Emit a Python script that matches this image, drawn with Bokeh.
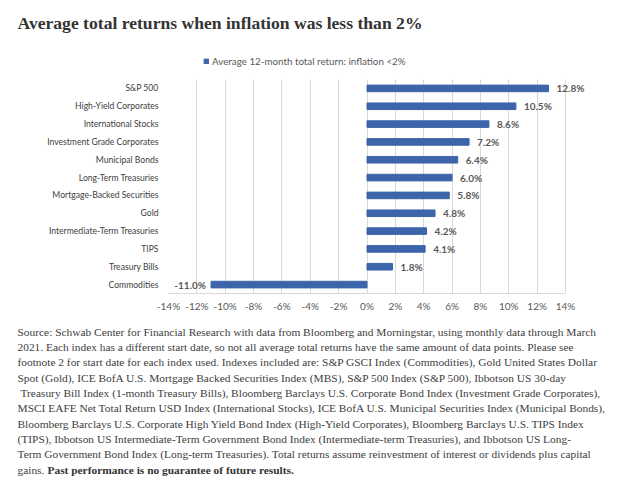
from bokeh.plotting import figure
from bokeh.models import (Range1d, FactorRange, ColumnDataSource, LabelSet, Legend,
                          LegendItem, FixedTicker)
from bokeh.embed import file_html
from bokeh.resources import INLINE
from bokeh.core.properties import value

# ---------------- data ----------------
categories = ["S&P 500", "High-Yield Corporates", "International Stocks",
              "Investment Grade Corporates", "Municipal Bonds", "Long-Term Treasuries",
              "Mortgage-Backed Securities", "Gold", "Intermediate-Term Treasuries",
              "TIPS", "Treasury Bills", "Commodities"]
returns = [12.8, 10.5, 8.6, 7.2, 6.4, 6.0, 5.8, 4.8, 4.2, 4.1, 1.8, -11.0]
x_ticks = [-14, -12, -10, -8, -6, -4, -2, 0, 2, 4, 6, 8, 10, 12, 14]
x_tick_labels = ["-14%", "-12%", "-10%", "-8%", "-6%", "-4%", "-2%", "0%",
                 "2%", "4%", "6%", "8%", "10%", "12%", "14%"]
title_text = "Average total returns when inflation was less than 2%"
legend_label = "Average 12-month total return: inflation <2%"
footnote_lines = [
    "Source: Schwab Center for Financial Research with data from Bloomberg and Morningstar, using monthly data through March",
    "2021. Each index has a different start date, so not all average total returns have the same amount of data points. Please see",
    "footnote 2 for start date for each index used. Indexes included are: S&P GSCI Index (Commodities), Gold United States Dollar",
    "Spot (Gold), ICE BofA U.S. Mortgage Backed Securities Index (MBS), S&P 500 Index (S&P 500), Ibbotson US 30-day",
    "Treasury Bill Index (1-month Treasury Bills), Bloomberg Barclays U.S. Corporate Bond Index (Investment Grade Corporates),",
    "MSCI EAFE Net Total Return USD Index (International Stocks), ICE BofA U.S. Municipal Securities Index (Municipal Bonds),",
    "Bloomberg Barclays U.S. Corporate High Yield Bond Index (High-Yield Corporates), Bloomberg Barclays U.S. TIPS Index",
    "(TIPS), Ibbotson US Intermediate-Term Government Bond Index (Intermediate-term Treasuries), and Ibbotson US Long-",
    "Term Government Bond Index (Long-term Treasuries). Total returns assume reinvestment of interest or dividends plus capital",
]
last_line_plain = "gains."
last_line_bold = "Past performance is no guarantee of future results."

# ---------------- styles / geometry ----------------
W = 628
BLUE = "#3D65A9"
GRID = "#D9D9D9"
SANS = "Lato"
SERIF = "Liberation Serif"

# ---------------- header ----------------
HH = 72
hdr = figure(width=W, height=HH, x_range=Range1d(0, W), y_range=Range1d(HH, 0),
             x_axis_type=None, y_axis_type=None, min_border=0,
             toolbar_location=None, output_backend="svg")
hdr.grid.visible = False
hdr.outline_line_color = None
hdr.text(x=[17], y=[22], text=[title_text], text_font=value(SERIF),
         text_font_style="bold", text_font_size="17.6px", text_color="#333333",
         text_baseline="middle", text_align="left")
# legend proxy (no visible mark of its own)
swatch = hdr.hbar(y=[float("nan")], right=[float("nan")], height=1,
                  fill_color=BLUE, line_color=BLUE)
leg = Legend(items=[LegendItem(label=legend_label, renderers=[swatch])],
             location=(203, HH - 67), orientation="horizontal",
             glyph_width=6, glyph_height=6, label_height=12, label_standoff=3,
             padding=0, margin=0, spacing=0, border_line_color=None,
             background_fill_alpha=0, label_text_font=SANS,
             label_text_font_size="9.8px", label_text_color="#595959")
hdr.add_layout(leg)

# ---------------- chart ----------------
CH = 243
FL, FR = 168, 614
px_per_unit = (565 - FL) / 28.0
x_end = 14 + (FR - 565) / px_per_unit
src = ColumnDataSource(dict(
    cat=categories, val=returns,
    lab=[f"{v:.1f}%" for v in returns],
    off=[8 if v >= 0 else -5 for v in returns],
    align=["left" if v >= 0 else "right" for v in returns],
))
p = figure(width=W, height=CH, y_range=FactorRange(*categories[::-1]),
           x_range=Range1d(-14, x_end), toolbar_location=None, output_backend="svg",
           min_border_left=FL, min_border_right=W - FR, min_border_top=7,
           min_border_bottom=22)
p.hbar(y="cat", left=0, right="val", height=0.37, color=BLUE, source=src)
p.add_layout(LabelSet(x="val", y="cat", text="lab", x_offset="off", text_align="align",
                      text_baseline="middle", text_font=value(SANS),
                      text_font_style="bold", text_font_size="10px",
                      text_color="#595959", source=src))
p.outline_line_color = None
p.ygrid.visible = False
p.xgrid.ticker = FixedTicker(ticks=x_ticks)
p.xgrid.grid_line_color = GRID
p.xaxis.ticker = FixedTicker(ticks=x_ticks)
p.xaxis.bounds = (x_ticks[0], x_ticks[-1])
p.xaxis.major_label_overrides = {t: s for t, s in zip(x_ticks, x_tick_labels)}
p.xaxis.axis_line_color = GRID
p.xaxis.major_tick_line_color = None
p.xaxis.minor_tick_line_color = None
p.xaxis.major_tick_out = 0
p.xaxis.major_label_text_font = SANS
p.xaxis.major_label_text_font_size = "10px"
p.xaxis.major_label_text_color = "#595959"
p.xaxis.major_label_standoff = 6
p.yaxis.axis_line_color = None
p.yaxis.major_tick_line_color = None
p.yaxis.minor_tick_line_color = None
p.yaxis.major_tick_out = 0
p.yaxis.major_label_text_font = SANS
p.yaxis.major_label_text_font_size = "8.6px"
p.yaxis.major_label_text_color = "#404040"
p.yaxis.major_label_standoff = 10

# ---------------- footnote ----------------
FH = 170
ft = figure(width=W, height=FH, x_range=Range1d(0, W), y_range=Range1d(FH, 0),
            x_axis_type=None, y_axis_type=None, min_border=0,
            toolbar_location=None, output_backend="svg")
ft.grid.visible = False
ft.outline_line_color = None
FS = "11.4px"
ys = [16 + 15.35 * i for i in range(len(footnote_lines) + 1)]
xs = [17 if i != 4 else 20 for i in range(len(footnote_lines))]
ft.text(x=xs, y=ys[:-1], text=footnote_lines, text_font=value(SERIF),
        text_font_size=FS, text_color="#404040", text_baseline="middle")
ft.text(x=[17], y=[ys[-1]], text=[last_line_plain], text_font=value(SERIF),
        text_font_size=FS, text_color="#404040", text_baseline="middle")
ft.text(x=[47], y=[ys[-1]], text=[last_line_bold], text_font=value(SERIF),
        text_font_style="bold", text_font_size=FS, text_color="#333333",
        text_baseline="middle")

open("out.html", "w").write(file_html([hdr, p, ft], INLINE))
